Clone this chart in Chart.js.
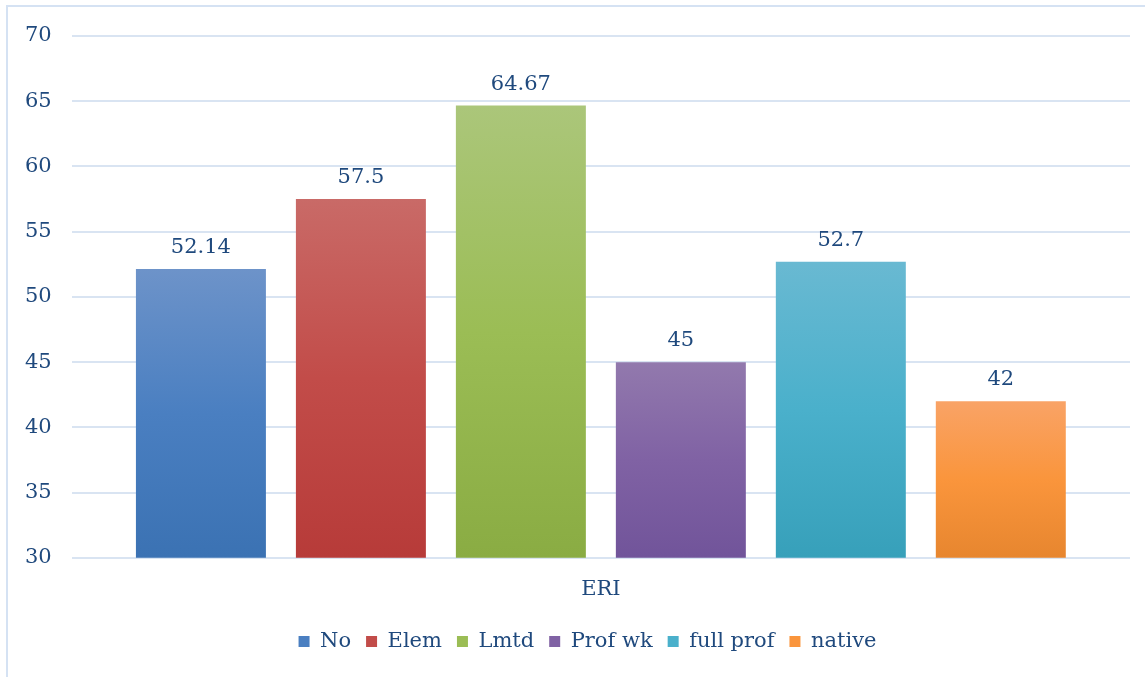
<!DOCTYPE html>
<html>
<head>
<meta charset="utf-8">
<title>ERI</title>
<script src="https://cdn.jsdelivr.net/npm/chart.js@4.4.1/dist/chart.umd.min.js"></script>
<style>
  html, body { margin: 0; padding: 0; background: #fff; }
  #wrap { position: relative; width: 1145px; height: 677px; }
</style>
</head>
<body>
<div id="wrap"><canvas id="eriChart" width="1145" height="677"></canvas></div>
<script>
// dados do gráfico
const categories = ['ERI'];
const seriesNames = ['No', 'Elem', 'Lmtd', 'Prof wk', 'full prof', 'native'];
const seriesValues = [52.14, 57.5, 64.67, 45, 52.7, 42];
const yTicks = [30, 35, 40, 45, 50, 55, 60, 65, 70];

// cores: topo, meio e base de cada barra (gradiente)
const topColors = ['#6d93c9', '#c96a67', '#abc67a', '#9279ad', '#69b9d2', '#f9a366'];
const midColors = ['#4a7fc1', '#c24c49', '#9bbd55', '#8062a4', '#4ab0cb', '#fa953c'];
const baseColors = ['#3b72b3', '#b73b39', '#8aac43', '#71549a', '#37a0ba', '#e7862f'];

const TEXT_COLOR = '#1f497d';
const FONT = '"DejaVu Serif", serif';
const FONT_SIZE = 21;
const Y_MIN = yTicks[0];
const Y_MAX = yTicks[yTicks.length - 1];

// gradiente vertical de cada barra, do topo até a base do eixo
function barFill(i) {
    return function(ctx) {
        const chart = ctx.chart;
        const y = chart.scales.y;
        if (!chart.chartArea || !y || ctx.type !== 'data') return midColors[i];
        const top = y.getPixelForValue(ctx.raw);
        const base = y.getPixelForValue(Y_MIN);
        const g = chart.ctx.createLinearGradient(0, top, 0, base);
        g.addColorStop(0, topColors[i]);
        g.addColorStop(0.5, midColors[i]);
        g.addColorStop(1, baseColors[i]);
        return g;
    };
}

// rótulos com o valor acima das barras
const valueLabels = {
    id: 'valueLabels',
    afterDatasetsDraw(chart) {
        const c = chart.ctx;
        c.save();
        c.font = FONT_SIZE + 'px ' + FONT;
        c.fillStyle = TEXT_COLOR;
        c.textAlign = 'center';
        c.textBaseline = 'alphabetic';
        chart.data.datasets.forEach((ds, i) => {
            const meta = chart.getDatasetMeta(i);
            meta.data.forEach((bar, j) => {
                c.fillText(String(ds.data[j]), bar.x, bar.y - 16);
            });
        });
        c.restore();
    }
};

// moldura fina (só topo e esquerda aparecem)
const frame = {
    id: 'frame',
    beforeDraw(chart) {
        const c = chart.ctx;
        c.save();
        c.strokeStyle = '#d5e2f3';
        c.lineWidth = 2;
        c.beginPath();
        c.moveTo(7, chart.height);
        c.lineTo(7, 6);
        c.lineTo(chart.width, 6);
        c.stroke();
        c.restore();
    }
};

// legenda centrada sob as barras, um pouco mais abaixo
const legendShift = {
    id: 'legendShift',
    afterLayout(chart) {
        const lg = chart.legend;
        if (!lg) return;
        lg.left += 20; lg.right += 20;
        lg.top += 7; lg.bottom += 7;
    }
};

const datasets = seriesNames.map((name, i) => ({
    label: name,
    data: [seriesValues[i]],
    backgroundColor: barFill(i),
    borderWidth: 0,
    categoryPercentage: 0.907,
    barPercentage: 0.8125
}));

new Chart(document.getElementById('eriChart'), {
    type: 'bar',
    data: { labels: categories, datasets: datasets },
    plugins: [frame, valueLabels, legendShift],
    options: {
        responsive: false,
        animation: false,
        layout: { padding: { left: 5, right: 15, top: 36, bottom: 22 } },
        scales: {
            y: {
                min: Y_MIN,
                max: Y_MAX,
                afterBuildTicks(axis) { axis.ticks = yTicks.map(v => ({ value: v })); },
                border: { display: false },
                grid: { color: '#d9e4f2', lineWidth: 2, drawTicks: false },
                ticks: { padding: 20, color: TEXT_COLOR, font: { family: FONT, size: FONT_SIZE } }
            },
            x: {
                border: { display: false },
                grid: { display: false },
                ticks: { padding: 11, color: TEXT_COLOR, font: { family: FONT, size: FONT_SIZE } },
                afterFit(axis) { axis.height -= 4; }
            }
        },
        plugins: {
            tooltip: { enabled: false },
            legend: {
                position: 'bottom',
                labels: {
                    boxWidth: 11,
                    boxHeight: 11,
                    padding: 15,
                    color: TEXT_COLOR,
                    font: { family: FONT, size: FONT_SIZE },
                    generateLabels(chart) {
                        return seriesNames.map((name, i) => ({
                            text: name,
                            fillStyle: midColors[i],
                            strokeStyle: midColors[i],
                            lineWidth: 0,
                            fontColor: TEXT_COLOR,
                            datasetIndex: i
                        }));
                    }
                }
            }
        }
    }
});
</script>
</body>
</html>
